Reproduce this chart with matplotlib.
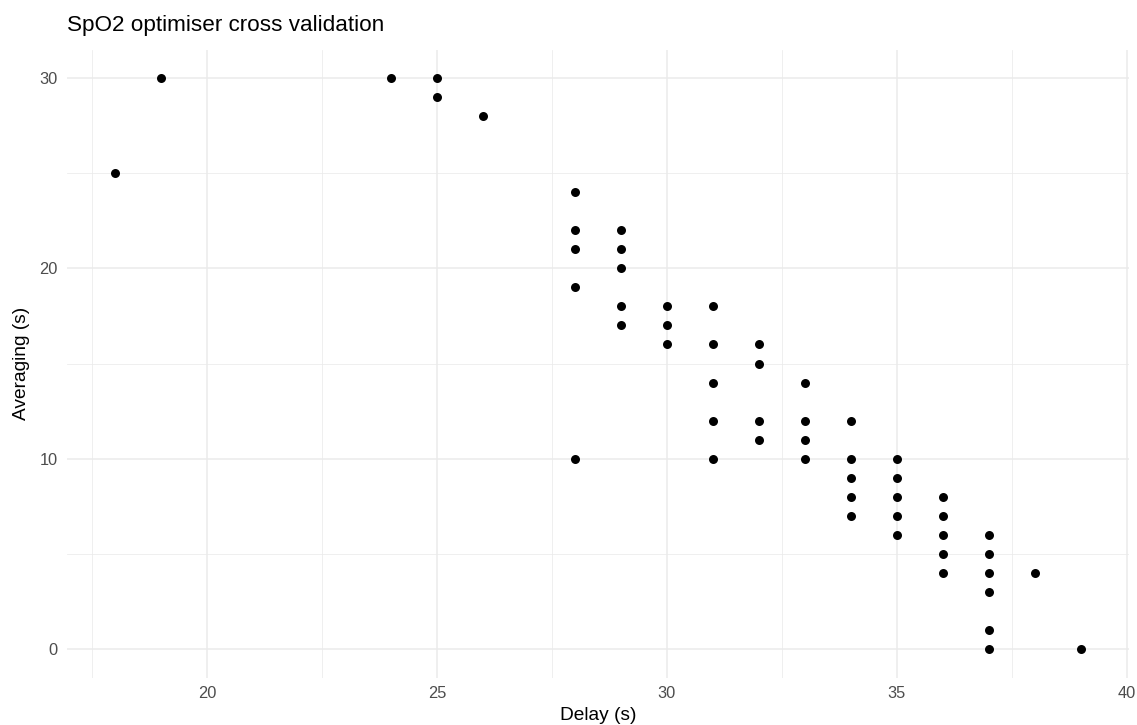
import matplotlib
matplotlib.use("Agg")
import matplotlib.pyplot as plt
from matplotlib.ticker import MultipleLocator

plt.rcParams['font.family'] = ['Liberation Sans', 'DejaVu Sans']

# delay (s) and averaging (s) pairs from the optimiser runs
delay = [18, 19, 24, 25, 25, 26,
         28, 28, 28, 28, 28,
         29, 29, 29, 29, 29,
         30, 30, 30,
         31, 31, 31, 31, 31,
         32, 32, 32, 32,
         33, 33, 33, 33,
         34, 34, 34, 34, 34,
         35, 35, 35, 35, 35,
         36, 36, 36, 36, 36,
         37, 37, 37, 37, 37, 37,
         38, 39]
averaging = [25, 30, 30, 30, 29, 28,
             24, 22, 21, 19, 10,
             22, 21, 20, 18, 17,
             18, 17, 16,
             18, 16, 14, 12, 10,
             16, 15, 12, 11,
             14, 12, 11, 10,
             12, 10, 9, 8, 7,
             10, 9, 8, 7, 6,
             8, 7, 6, 5, 4,
             6, 5, 4, 3, 1, 0,
             4, 0]

fig = plt.figure(figsize=(11.37, 7.25), dpi=100)
ax = fig.add_axes([0.0587, 0.0655, 0.9343, 0.8662])

ax.scatter(delay, averaging, s=42, color='black', zorder=3, linewidths=0)

xlo, xhi = min(delay), max(delay)
ylo, yhi = min(averaging), max(averaging)
ax.set_xlim(xlo - 0.05 * (xhi - xlo), xhi + 0.05 * (xhi - xlo))
ax.set_ylim(ylo - 0.05 * (yhi - ylo), yhi + 0.05 * (yhi - ylo))

ax.xaxis.set_major_locator(MultipleLocator(5))
ax.xaxis.set_minor_locator(MultipleLocator(2.5))
ax.yaxis.set_major_locator(MultipleLocator(10))
ax.yaxis.set_minor_locator(MultipleLocator(5))

ax.grid(True, which='major', color='#EBEBEB', linewidth=1.1)
ax.grid(True, which='minor', color='#EBEBEB', linewidth=0.55)
ax.set_axisbelow(True)
for s in ax.spines.values():
    s.set_visible(False)
ax.tick_params(which='both', length=0, labelsize=11.8, labelcolor='#4D4D4D')
ax.tick_params(axis='x', pad=6.3)
ax.tick_params(axis='y', pad=6.5)

ax.set_xlabel("Delay (s)", fontsize=13.8, labelpad=4.3)
ax.set_ylabel("Averaging (s)", fontsize=13.8, labelpad=7)
ax.set_title("SpO2 optimiser cross validation", fontsize=16.2, loc='left', pad=13)

fig.savefig("out.png", dpi=100)
